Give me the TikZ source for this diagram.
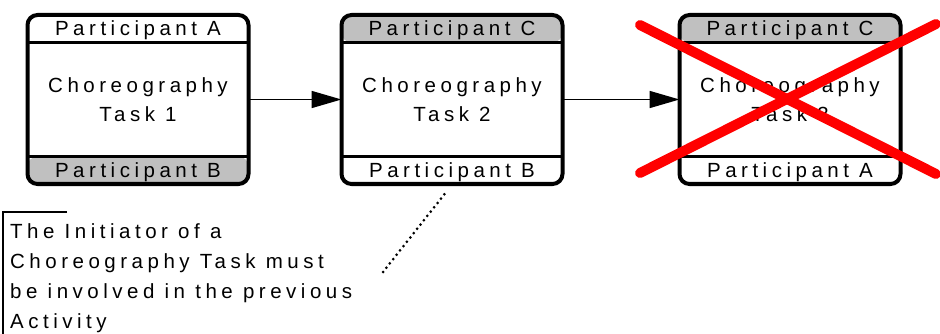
\documentclass[tikz,border=0pt]{standalone}
\usepackage{fontspec}
\setmainfont{Liberation Sans}[LetterSpace=22]
\usepackage{tikz}
\usetikzlibrary{arrows.meta,calc,positioning}
\definecolor{bandgray}{RGB}{192,192,192}
\definecolor{crossred}{RGB}{255,0,0}
\newcommand{\taskfont}{\fontsize{20.5}{28.5}\selectfont}
\newcommand{\notefont}{\fontsize{20.5}{30}\selectfont}
\tikzset{
  taskbox/.style={draw,fill=white,rounded corners=10pt,line width=4pt,
                  minimum width=221pt,minimum height=169pt,inner sep=0pt,
                  outer sep=0pt,align=center,font=\taskfont},
  topband/.style={path picture={\fill[bandgray] (path picture bounding box.north west)
                  rectangle ([yshift=-27.5pt]path picture bounding box.north east);}},
  botband/.style={path picture={\fill[bandgray] (path picture bounding box.south west)
                  rectangle ([yshift=27.5pt]path picture bounding box.south east);}},
  sepline/.style={line width=3.5pt},
  partlabel/.style={anchor=base,inner sep=0pt,font=\taskfont},
  notetext/.style={anchor=north west,inner sep=0pt,align=left,font=\notefont},
  notebrk/.style={line width=1.5pt},
  flow/.style={-{Triangle[length=30pt,width=17pt]},line width=1.7pt},
  dotline/.style={line width=3pt,line cap=round,dash pattern=on 0pt off 5.5pt},
  cross/.style={crossred,line width=10pt,line cap=round},
}
\begin{document}
\begin{tikzpicture}[x=1pt,y=-1pt]
  \useasboundingbox (0,0) rectangle (940,334);
  \node[taskbox,botband] (t1) at (138,99.5) {Choreography\\Task 1};
  \node[taskbox,topband] (t2) at (452,99.5) {Choreography\\Task 2};
  \node[taskbox,topband] (t3) at (790,99.5) {Choreography\\Task 3};
  \foreach \t in {t1,t2,t3}{
    \draw[sepline] ([yshift=-27.5pt]\t.north west) -- ([yshift=-27.5pt]\t.north east);
    \draw[sepline] ([yshift=27.5pt]\t.south west) -- ([yshift=27.5pt]\t.south east);
  }
  \node[partlabel] (p1a) at ([yshift=-21pt]t1.north) {Participant A};
  \node[partlabel] (p1b) at ([yshift=6.5pt]t1.south) {Participant B};
  \node[partlabel] (p2a) at ([yshift=-21pt]t2.north) {Participant C};
  \node[partlabel] (p2b) at ([yshift=6.5pt]t2.south) {Participant B};
  \node[partlabel] (p3a) at ([yshift=-21pt]t3.north) {Participant C};
  \node[partlabel] (p3b) at ([yshift=6.5pt]t3.south) {Participant A};
  \draw[flow] (t1.east) -- (t2.west);
  \draw[flow] (t2.east) -- (t3.west);
  \node[notetext] (note) at (10,223) {The Initiator of a\\Choreography Task must\\be involved in the previous\\Activity};
  \draw[notebrk] ($(note.north west)+(57,-11)$) -| ($(note.north west)+(-7,111)$);
  \coordinate (noteend) at (383,272);
  \draw[dotline] (noteend) -- ([xshift=-5pt,yshift=-7pt]t2.south);
  \draw[cross] ($(t3.center)+(-150,-74.5)$) -- ($(t3.center)+(146,74.5)$);
  \draw[cross] ($(t3.center)+(-150,73.5)$) -- ($(t3.center)+(146,-75.5)$);
\end{tikzpicture}
\end{document}
